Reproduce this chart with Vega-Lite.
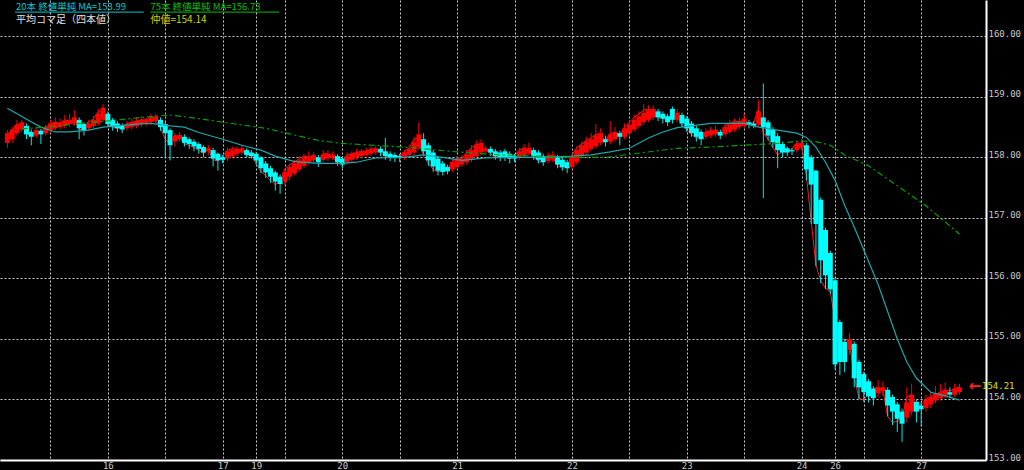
{
  "$schema": "https://vega.github.io/schema/vega-lite/v6.json",
  "width": 986,
  "height": 460,
  "autosize": {"type": "none"},
  "padding": {"left": 0, "top": 0, "right": 38, "bottom": 10},
  "background": "#000000",
  "config": {"view": {"stroke": null}},
  "datasets": {
    "bars": [
      {"k":0,"o":158.24,"c":158.40,"h":158.45,"l":158.16,"r":158.38},
      {"k":1,"o":158.30,"c":158.46,"h":158.50,"l":158.24,"r":158.45},
      {"k":2,"o":158.40,"c":158.54,"h":158.62,"l":158.36,"r":158.55},
      {"k":3,"o":158.46,"c":158.58,"h":158.62,"l":158.42,"r":158.52},
      {"k":4,"o":158.52,"c":158.38,"h":158.56,"l":158.30,"r":158.38},
      {"k":5,"o":158.42,"c":158.34,"h":158.46,"l":158.20,"r":158.36},
      {"k":6,"o":158.36,"c":158.45,"h":158.50,"l":158.32,"r":158.44},
      {"k":7,"o":158.44,"c":158.38,"h":158.47,"l":158.22,"r":158.40},
      {"k":8,"o":158.40,"c":158.50,"h":158.54,"l":158.36,"r":158.50},
      {"k":9,"o":158.45,"c":158.56,"h":158.62,"l":158.40,"r":158.55},
      {"k":10,"o":158.48,"c":158.58,"h":158.66,"l":158.44,"r":158.58},
      {"k":11,"o":158.50,"c":158.58,"h":158.64,"l":158.46,"r":158.56},
      {"k":12,"o":158.52,"c":158.60,"h":158.70,"l":158.48,"r":158.62},
      {"k":13,"o":158.55,"c":158.62,"h":158.72,"l":158.50,"r":158.60},
      {"k":14,"o":158.56,"c":158.66,"h":158.78,"l":158.52,"r":158.64},
      {"k":15,"o":158.62,"c":158.48,"h":158.66,"l":158.30,"r":158.46},
      {"k":16,"o":158.55,"c":158.44,"h":158.58,"l":158.36,"r":158.46},
      {"k":17,"o":158.48,"c":158.56,"h":158.62,"l":158.44,"r":158.58},
      {"k":18,"o":158.52,"c":158.62,"h":158.68,"l":158.48,"r":158.64},
      {"k":19,"o":158.56,"c":158.72,"h":158.80,"l":158.52,"r":158.76},
      {"k":20,"o":158.62,"c":158.82,"h":158.88,"l":158.58,"r":158.74},
      {"k":21,"o":158.72,"c":158.55,"h":158.76,"l":158.50,"r":158.54},
      {"k":22,"o":158.62,"c":158.50,"h":158.65,"l":158.44,"r":158.50},
      {"k":23,"o":158.56,"c":158.48,"h":158.60,"l":158.42,"r":158.48},
      {"k":24,"o":158.52,"c":158.46,"h":158.56,"l":158.40,"r":158.50},
      {"k":25,"o":158.48,"c":158.55,"h":158.60,"l":158.44,"r":158.56},
      {"k":26,"o":158.50,"c":158.58,"h":158.64,"l":158.46,"r":158.58},
      {"k":27,"o":158.52,"c":158.60,"h":158.66,"l":158.48,"r":158.60},
      {"k":28,"o":158.55,"c":158.62,"h":158.68,"l":158.50,"r":158.62},
      {"k":29,"o":158.56,"c":158.62,"h":158.66,"l":158.52,"r":158.62},
      {"k":30,"o":158.58,"c":158.66,"h":158.72,"l":158.54,"r":158.66},
      {"k":31,"o":158.60,"c":158.68,"h":158.72,"l":158.56,"r":158.62},
      {"k":32,"o":158.62,"c":158.50,"h":158.66,"l":158.44,"r":158.48},
      {"k":33,"o":158.55,"c":158.40,"h":158.58,"l":158.00,"r":158.30},
      {"k":34,"o":158.45,"c":158.20,"h":158.48,"l":157.95,"r":158.22},
      {"k":35,"o":158.26,"c":158.36,"h":158.40,"l":158.18,"r":158.36},
      {"k":36,"o":158.30,"c":158.37,"h":158.42,"l":158.26,"r":158.34},
      {"k":37,"o":158.34,"c":158.24,"h":158.38,"l":158.18,"r":158.22},
      {"k":38,"o":158.30,"c":158.22,"h":158.33,"l":158.14,"r":158.20},
      {"k":39,"o":158.26,"c":158.18,"h":158.30,"l":158.10,"r":158.16},
      {"k":40,"o":158.22,"c":158.14,"h":158.25,"l":158.06,"r":158.12},
      {"k":41,"o":158.17,"c":158.08,"h":158.20,"l":158.00,"r":158.06},
      {"k":42,"o":158.10,"c":158.15,"h":158.20,"l":158.04,"r":158.14},
      {"k":43,"o":158.12,"c":157.98,"h":158.16,"l":157.85,"r":157.96},
      {"k":44,"o":158.06,"c":157.95,"h":158.08,"l":157.78,"r":157.94},
      {"k":45,"o":158.00,"c":157.96,"h":158.04,"l":157.90,"r":158.02},
      {"k":46,"o":157.98,"c":158.10,"h":158.16,"l":157.94,"r":158.12},
      {"k":47,"o":158.02,"c":158.12,"h":158.18,"l":157.98,"r":158.14},
      {"k":48,"o":158.06,"c":158.14,"h":158.18,"l":158.02,"r":158.14},
      {"k":49,"o":158.08,"c":158.15,"h":158.20,"l":158.04,"r":158.10},
      {"k":50,"o":158.12,"c":158.04,"h":158.15,"l":158.00,"r":158.04},
      {"k":51,"o":158.08,"c":158.02,"h":158.12,"l":157.98,"r":158.04},
      {"k":52,"o":158.06,"c":157.95,"h":158.09,"l":157.88,"r":157.90},
      {"k":53,"o":158.00,"c":157.82,"h":158.02,"l":157.74,"r":157.76},
      {"k":54,"o":157.90,"c":157.75,"h":157.94,"l":157.66,"r":157.70},
      {"k":55,"o":157.82,"c":157.68,"h":157.86,"l":157.58,"r":157.62},
      {"k":56,"o":157.75,"c":157.60,"h":157.78,"l":157.45,"r":157.55},
      {"k":57,"o":157.68,"c":157.56,"h":157.72,"l":157.40,"r":157.60},
      {"k":58,"o":157.60,"c":157.76,"h":157.82,"l":157.54,"r":157.80},
      {"k":59,"o":157.68,"c":157.84,"h":157.90,"l":157.62,"r":157.88},
      {"k":60,"o":157.74,"c":157.90,"h":157.96,"l":157.70,"r":157.92},
      {"k":61,"o":157.80,"c":157.95,"h":158.02,"l":157.76,"r":157.98},
      {"k":62,"o":157.86,"c":158.00,"h":158.06,"l":157.82,"r":158.02},
      {"k":63,"o":157.92,"c":158.02,"h":158.10,"l":157.88,"r":158.00},
      {"k":64,"o":157.95,"c":158.04,"h":158.08,"l":157.90,"r":158.02},
      {"k":65,"o":158.00,"c":157.92,"h":158.04,"l":157.84,"r":157.94},
      {"k":66,"o":157.96,"c":158.05,"h":158.12,"l":157.92,"r":158.06},
      {"k":67,"o":157.98,"c":158.06,"h":158.12,"l":157.94,"r":158.06},
      {"k":68,"o":158.00,"c":158.05,"h":158.10,"l":157.96,"r":158.00},
      {"k":69,"o":158.02,"c":157.92,"h":158.05,"l":157.86,"r":157.90},
      {"k":70,"o":157.98,"c":157.88,"h":158.02,"l":157.82,"r":157.92},
      {"k":71,"o":157.92,"c":158.02,"h":158.08,"l":157.88,"r":158.04},
      {"k":72,"o":157.96,"c":158.06,"h":158.10,"l":157.92,"r":158.06},
      {"k":73,"o":158.00,"c":158.08,"h":158.14,"l":157.96,"r":158.08},
      {"k":74,"o":158.02,"c":158.10,"h":158.14,"l":157.98,"r":158.10},
      {"k":75,"o":158.04,"c":158.11,"h":158.16,"l":158.00,"r":158.10},
      {"k":76,"o":158.06,"c":158.13,"h":158.18,"l":158.02,"r":158.14},
      {"k":77,"o":158.08,"c":158.15,"h":158.20,"l":158.04,"r":158.14},
      {"k":78,"o":158.14,"c":158.08,"h":158.18,"l":158.02,"r":158.08},
      {"k":79,"o":158.10,"c":158.02,"h":158.32,"l":157.96,"r":158.02},
      {"k":80,"o":158.06,"c":158.00,"h":158.10,"l":157.94,"r":158.00},
      {"k":81,"o":158.04,"c":157.99,"h":158.08,"l":157.92,"r":158.00},
      {"k":82,"o":158.02,"c":157.99,"h":158.06,"l":157.92,"r":158.02},
      {"k":83,"o":158.00,"c":158.08,"h":158.12,"l":157.96,"r":158.10},
      {"k":84,"o":158.04,"c":158.14,"h":158.20,"l":158.00,"r":158.16},
      {"k":85,"o":158.08,"c":158.25,"h":158.34,"l":158.04,"r":158.30},
      {"k":86,"o":158.16,"c":158.38,"h":158.58,"l":158.12,"r":158.30},
      {"k":87,"o":158.30,"c":158.10,"h":158.40,"l":158.04,"r":158.02},
      {"k":88,"o":158.20,"c":157.95,"h":158.24,"l":157.86,"r":157.90},
      {"k":89,"o":158.08,"c":157.85,"h":158.12,"l":157.76,"r":157.80},
      {"k":90,"o":157.98,"c":157.78,"h":158.02,"l":157.70,"r":157.76},
      {"k":91,"o":157.90,"c":157.76,"h":157.94,"l":157.70,"r":157.78},
      {"k":92,"o":157.84,"c":157.77,"h":157.88,"l":157.72,"r":157.80},
      {"k":93,"o":157.80,"c":157.92,"h":157.98,"l":157.76,"r":157.94},
      {"k":94,"o":157.84,"c":157.96,"h":158.02,"l":157.80,"r":157.98},
      {"k":95,"o":157.88,"c":157.98,"h":158.04,"l":157.84,"r":157.98},
      {"k":96,"o":157.92,"c":158.05,"h":158.12,"l":157.88,"r":158.08},
      {"k":97,"o":157.96,"c":158.12,"h":158.20,"l":157.92,"r":158.16},
      {"k":98,"o":158.02,"c":158.20,"h":158.28,"l":157.98,"r":158.22},
      {"k":99,"o":158.08,"c":158.24,"h":158.30,"l":158.04,"r":158.20},
      {"k":100,"o":158.10,"c":158.15,"h":158.20,"l":158.06,"r":158.12},
      {"k":101,"o":158.14,"c":158.08,"h":158.18,"l":158.02,"r":158.06},
      {"k":102,"o":158.10,"c":158.02,"h":158.14,"l":157.96,"r":158.00},
      {"k":103,"o":158.08,"c":158.00,"h":158.12,"l":157.94,"r":158.04},
      {"k":104,"o":158.10,"c":158.00,"h":158.14,"l":157.94,"r":158.00},
      {"k":105,"o":158.06,"c":157.98,"h":158.10,"l":157.90,"r":157.98},
      {"k":106,"o":158.02,"c":157.98,"h":158.06,"l":157.92,"r":158.02},
      {"k":107,"o":158.00,"c":158.10,"h":158.16,"l":157.96,"r":158.12},
      {"k":108,"o":158.04,"c":158.14,"h":158.22,"l":158.00,"r":158.16},
      {"k":109,"o":158.06,"c":158.16,"h":158.24,"l":158.02,"r":158.10},
      {"k":110,"o":158.12,"c":158.02,"h":158.16,"l":157.96,"r":158.00},
      {"k":111,"o":158.08,"c":157.96,"h":158.12,"l":157.90,"r":157.94},
      {"k":112,"o":158.02,"c":157.92,"h":158.06,"l":157.86,"r":157.92},
      {"k":113,"o":157.94,"c":158.02,"h":158.08,"l":157.90,"r":158.04},
      {"k":114,"o":157.96,"c":158.04,"h":158.10,"l":157.92,"r":158.00},
      {"k":115,"o":158.00,"c":157.88,"h":158.04,"l":157.82,"r":157.86},
      {"k":116,"o":157.96,"c":157.84,"h":158.00,"l":157.78,"r":157.82},
      {"k":117,"o":157.92,"c":157.82,"h":157.96,"l":157.74,"r":157.86},
      {"k":118,"o":157.84,"c":158.00,"h":158.06,"l":157.80,"r":158.04},
      {"k":119,"o":157.92,"c":158.12,"h":158.18,"l":157.88,"r":158.16},
      {"k":120,"o":158.02,"c":158.20,"h":158.26,"l":157.98,"r":158.22},
      {"k":121,"o":158.08,"c":158.26,"h":158.34,"l":158.04,"r":158.28},
      {"k":122,"o":158.14,"c":158.30,"h":158.40,"l":158.10,"r":158.32},
      {"k":123,"o":158.18,"c":158.36,"h":158.55,"l":158.14,"r":158.38},
      {"k":124,"o":158.24,"c":158.40,"h":158.48,"l":158.20,"r":158.36},
      {"k":125,"o":158.30,"c":158.25,"h":158.36,"l":158.18,"r":158.28},
      {"k":126,"o":158.26,"c":158.38,"h":158.60,"l":158.22,"r":158.40},
      {"k":127,"o":158.30,"c":158.42,"h":158.50,"l":158.26,"r":158.40},
      {"k":128,"o":158.40,"c":158.34,"h":158.44,"l":158.20,"r":158.36},
      {"k":129,"o":158.34,"c":158.48,"h":158.56,"l":158.30,"r":158.50},
      {"k":130,"o":158.40,"c":158.54,"h":158.62,"l":158.36,"r":158.58},
      {"k":131,"o":158.46,"c":158.62,"h":158.70,"l":158.42,"r":158.66},
      {"k":132,"o":158.52,"c":158.68,"h":158.76,"l":158.48,"r":158.72},
      {"k":133,"o":158.58,"c":158.74,"h":158.88,"l":158.54,"r":158.78},
      {"k":134,"o":158.62,"c":158.78,"h":158.86,"l":158.58,"r":158.80},
      {"k":135,"o":158.66,"c":158.80,"h":158.86,"l":158.62,"r":158.76},
      {"k":136,"o":158.76,"c":158.66,"h":158.80,"l":158.60,"r":158.66},
      {"k":137,"o":158.72,"c":158.64,"h":158.76,"l":158.56,"r":158.64},
      {"k":138,"o":158.68,"c":158.58,"h":158.72,"l":158.52,"r":158.62},
      {"k":139,"o":158.80,"c":158.62,"h":158.84,"l":158.56,"r":158.68},
      {"k":140,"o":158.62,"c":158.74,"h":158.80,"l":158.58,"r":158.70},
      {"k":141,"o":158.70,"c":158.56,"h":158.74,"l":158.50,"r":158.52},
      {"k":142,"o":158.64,"c":158.48,"h":158.68,"l":158.42,"r":158.46},
      {"k":143,"o":158.56,"c":158.40,"h":158.60,"l":158.34,"r":158.38},
      {"k":144,"o":158.48,"c":158.34,"h":158.52,"l":158.26,"r":158.32},
      {"k":145,"o":158.42,"c":158.30,"h":158.46,"l":158.20,"r":158.34},
      {"k":146,"o":158.34,"c":158.42,"h":158.48,"l":158.30,"r":158.42},
      {"k":147,"o":158.36,"c":158.44,"h":158.50,"l":158.32,"r":158.44},
      {"k":148,"o":158.38,"c":158.46,"h":158.52,"l":158.34,"r":158.44},
      {"k":149,"o":158.42,"c":158.36,"h":158.46,"l":158.30,"r":158.40},
      {"k":150,"o":158.38,"c":158.50,"h":158.56,"l":158.34,"r":158.52},
      {"k":151,"o":158.42,"c":158.54,"h":158.62,"l":158.38,"r":158.56},
      {"k":152,"o":158.46,"c":158.58,"h":158.64,"l":158.42,"r":158.60},
      {"k":153,"o":158.50,"c":158.60,"h":158.66,"l":158.46,"r":158.58},
      {"k":154,"o":158.52,"c":158.64,"h":158.72,"l":158.48,"r":158.62},
      {"k":155,"o":158.58,"c":158.54,"h":158.62,"l":158.48,"r":158.54},
      {"k":156,"o":158.56,"c":158.52,"h":158.60,"l":158.48,"r":158.58},
      {"k":157,"o":158.54,"c":158.76,"h":158.94,"l":158.50,"r":158.80},
      {"k":158,"o":158.66,"c":158.50,"h":159.22,"l":157.33,"r":158.40},
      {"k":159,"o":158.58,"c":158.36,"h":158.62,"l":158.28,"r":158.30},
      {"k":160,"o":158.46,"c":158.25,"h":158.50,"l":158.16,"r":158.16},
      {"k":161,"o":158.35,"c":158.12,"h":158.40,"l":157.82,"r":158.04},
      {"k":162,"o":158.22,"c":158.08,"h":158.26,"l":158.00,"r":158.10},
      {"k":163,"o":158.15,"c":158.08,"h":158.18,"l":158.02,"r":158.12},
      {"k":164,"o":158.12,"c":158.10,"h":158.16,"l":158.04,"r":158.14},
      {"k":165,"o":158.12,"c":158.22,"h":158.28,"l":158.08,"r":158.24},
      {"k":166,"o":158.16,"c":158.24,"h":158.30,"l":158.12,"r":158.20},
      {"k":167,"o":158.20,"c":157.80,"h":158.24,"l":157.62,"r":157.70},
      {"k":168,"o":158.00,"c":157.55,"h":158.04,"l":156.90,"r":156.95},
      {"k":169,"o":157.78,"c":156.90,"h":157.80,"l":156.20,"r":156.22},
      {"k":170,"o":157.30,"c":156.30,"h":157.34,"l":155.92,"r":155.96},
      {"k":171,"o":156.80,"c":156.05,"h":156.84,"l":155.82,"r":155.84},
      {"k":172,"o":156.42,"c":155.82,"h":156.46,"l":155.74,"r":155.78},
      {"k":173,"o":155.97,"c":154.58,"h":156.00,"l":154.50,"r":155.30},
      {"k":174,"o":155.28,"c":154.62,"h":155.32,"l":154.40,"r":155.00},
      {"k":175,"o":154.95,"c":154.62,"h":155.00,"l":154.45,"r":154.98},
      {"k":176,"o":154.82,"c":155.00,"h":155.10,"l":154.74,"r":154.95},
      {"k":177,"o":154.92,"c":154.35,"h":154.96,"l":154.20,"r":154.37},
      {"k":178,"o":154.62,"c":154.20,"h":154.66,"l":154.00,"r":154.02},
      {"k":179,"o":154.42,"c":154.12,"h":154.46,"l":153.96,"r":153.99},
      {"k":180,"o":154.30,"c":154.05,"h":154.34,"l":153.95,"r":154.10},
      {"k":181,"o":154.18,"c":154.02,"h":154.22,"l":153.90,"r":154.18},
      {"k":182,"o":154.10,"c":154.20,"h":154.32,"l":154.04,"r":154.20},
      {"k":183,"o":154.14,"c":154.20,"h":154.30,"l":154.06,"r":154.15},
      {"k":184,"o":154.16,"c":153.90,"h":154.20,"l":153.72,"r":153.72},
      {"k":185,"o":154.04,"c":153.80,"h":154.08,"l":153.58,"r":153.62},
      {"k":186,"o":153.92,"c":153.68,"h":153.96,"l":153.46,"r":153.64},
      {"k":187,"o":153.80,"c":153.60,"h":153.85,"l":153.30,"r":153.70},
      {"k":188,"o":153.70,"c":153.95,"h":154.20,"l":153.62,"r":154.04},
      {"k":189,"o":153.80,"c":154.08,"h":154.26,"l":153.74,"r":154.08},
      {"k":190,"o":153.96,"c":153.80,"h":154.00,"l":153.62,"r":153.88},
      {"k":191,"o":153.90,"c":153.84,"h":153.96,"l":153.55,"r":153.92},
      {"k":192,"o":153.86,"c":154.00,"h":154.08,"l":153.80,"r":154.00},
      {"k":193,"o":153.92,"c":154.04,"h":154.12,"l":153.86,"r":154.05},
      {"k":194,"o":153.98,"c":154.10,"h":154.22,"l":153.94,"r":154.08},
      {"k":195,"o":154.02,"c":154.12,"h":154.26,"l":153.98,"r":154.12},
      {"k":196,"o":154.06,"c":154.16,"h":154.28,"l":154.02,"r":154.16},
      {"k":197,"o":154.12,"c":154.08,"h":154.20,"l":154.02,"r":154.14},
      {"k":198,"o":154.08,"c":154.18,"h":154.26,"l":154.04,"r":154.18},
      {"k":199,"o":154.12,"c":154.20,"h":154.26,"l":154.08,"r":154.21}
    ],
    "ma20": [
      {"k":0,"v":158.81},{"k":4,"v":158.63},{"k":7,"v":158.50},{"k":10,"v":158.42},{"k":13,"v":158.42},
      {"k":17,"v":158.45},{"k":20,"v":158.50},{"k":24,"v":158.53},{"k":27,"v":158.55},{"k":30,"v":158.56},
      {"k":34,"v":158.52},{"k":37,"v":158.50},{"k":40,"v":158.41},{"k":45,"v":158.30},{"k":49,"v":158.20},
      {"k":53,"v":158.12},{"k":56,"v":158.02},{"k":60,"v":157.93},{"k":65,"v":157.90},{"k":70,"v":157.90},
      {"k":73,"v":157.92},{"k":77,"v":157.99},{"k":83,"v":158.00},{"k":87,"v":158.04},{"k":91,"v":158.00},
      {"k":95,"v":157.95},{"k":100,"v":157.99},{"k":105,"v":158.00},{"k":111,"v":158.00},{"k":118,"v":158.02},
      {"k":122,"v":158.04},{"k":126,"v":158.09},{"k":130,"v":158.15},{"k":134,"v":158.32},{"k":137,"v":158.42},
      {"k":140,"v":158.49},{"k":147,"v":158.56},{"k":154,"v":158.56},{"k":157,"v":158.50},{"k":161,"v":158.45},
      {"k":165,"v":158.40},{"k":167,"v":158.33},{"k":169,"v":158.17},{"k":171,"v":157.92},{"k":173,"v":157.62},
      {"k":175,"v":157.21},{"k":177,"v":156.85},{"k":179,"v":156.47},{"k":182,"v":155.90},{"k":184,"v":155.45},
      {"k":186,"v":155.00},{"k":188,"v":154.62},{"k":190,"v":154.35},{"k":193,"v":154.12},{"k":196,"v":154.06},
      {"k":199,"v":153.99}
    ],
    "ma75": [
      {"k":3,"v":158.47},{"k":8,"v":158.50},{"k":15,"v":158.56},{"k":22,"v":158.61},{"k":28,"v":158.66},
      {"k":34,"v":158.70},{"k":40,"v":158.64},{"k":47,"v":158.56},{"k":54,"v":158.48},{"k":60,"v":158.37},
      {"k":65,"v":158.28},{"k":70,"v":158.23},{"k":83,"v":158.17},{"k":94,"v":158.09},{"k":103,"v":158.04},
      {"k":118,"v":158.00},{"k":125,"v":158.00},{"k":131,"v":158.06},{"k":140,"v":158.15},{"k":147,"v":158.17},
      {"k":154,"v":158.20},{"k":161,"v":158.23},{"k":166,"v":158.27},{"k":169,"v":158.26},{"k":172,"v":158.20},
      {"k":175,"v":158.04},{"k":180,"v":157.86},{"k":186,"v":157.53},{"k":192,"v":157.20},{"k":198,"v":156.80},
      {"k":199,"v":156.73}
    ],
    "one": [{"n": 1}]
  },
  "layer": [
    {
      "data": {"name": "bars"},
      "mark": {"type": "line", "color": "#ff1a1a", "strokeWidth": 1},
      "encoding": {
        "x": {"field": "k", "type": "quantitative", "scale": {"domain": [-0.5, 203.5], "nice": false, "zero": false},
          "axis": {"orient": "bottom", "values": [9,21,33,45,52,58,70,82,94,106,118,130,142,154,166,173,179,191],
            "labelExpr": "datum.value==21?'16':datum.value==45?'17':datum.value==52?'19':datum.value==70?'20':datum.value==94?'21':datum.value==118?'22':datum.value==142?'23':datum.value==166?'24':datum.value==173?'26':datum.value==191?'27':''",
            "grid": true, "gridColor": "#c8c8c8", "gridDash": [2, 2], "gridWidth": 1, "ticks": false,
            "domainColor": "#ffffff", "domainWidth": 2, "labelColor": "#c8c8c8", "labelFont": "DejaVu Sans Mono",
            "labelFontSize": 9, "labelPadding": 1, "labelOverlap": false, "labelFlush": false, "title": null}},
        "y": {"field": "r", "type": "quantitative", "scale": {"domain": [153, 160.6], "nice": false, "zero": false},
          "axis": {"orient": "right", "values": [153,154,155,156,157,158,159,160], "format": ".2f",
            "grid": true, "gridColor": "#c8c8c8", "gridDash": [2, 2], "gridWidth": 1, "ticks": false,
            "domainColor": "#ffffff", "domainWidth": 2, "labelColor": "#c8c8c8", "labelFont": "DejaVu Sans Mono",
            "labelFontSize": 9, "labelPadding": 2, "labelBaseline": "alphabetic", "labelFlush": false, "title": null}}
      }
    },
    {
      "data": {"name": "bars"},
      "mark": {"type": "rule", "strokeWidth": 1},
      "encoding": {
        "x": {"field": "k", "type": "quantitative"},
        "y": {"field": "l", "type": "quantitative"},
        "y2": {"field": "h"},
        "color": {"condition": {"test": "datum.c >= datum.o", "value": "#ff0000"}, "value": "#00e8e8"}
      }
    },
    {
      "data": {"name": "bars"},
      "mark": {"type": "bar", "size": 5},
      "encoding": {
        "x": {"field": "k", "type": "quantitative"},
        "y": {"field": "o", "type": "quantitative"},
        "y2": {"field": "c"},
        "color": {"condition": {"test": "datum.c >= datum.o", "value": "#ff0000"}, "value": "#00ffff"}
      }
    },
    {
      "data": {"name": "ma20"},
      "mark": {"type": "line", "color": "#1aa8a8", "strokeWidth": 1.2},
      "encoding": {
        "x": {"field": "k", "type": "quantitative"},
        "y": {"field": "v", "type": "quantitative"}
      }
    },
    {
      "data": {"name": "ma75"},
      "mark": {"type": "line", "color": "#00a000", "strokeWidth": 1.2, "strokeDash": [6, 3, 2, 3]},
      "encoding": {
        "x": {"field": "k", "type": "quantitative"},
        "y": {"field": "v", "type": "quantitative"}
      }
    },
    {
      "data": {"name": "one"},
      "mark": {"type": "text", "text": "20本 終値単純 MA=153.99", "color": "#00c8d0", "font": "Noto Sans CJK JP", "fontSize": 9.5, "align": "left", "baseline": "alphabetic"},
      "encoding": {"x": {"datum": 1.8, "type": "quantitative"}, "y": {"datum": 160.435, "type": "quantitative"}}
    },
    {
      "data": {"name": "one"},
      "mark": {"type": "rule", "color": "#00c8d0", "strokeWidth": 1},
      "encoding": {"x": {"datum": 1.6, "type": "quantitative"}, "x2": {"datum": 28.5}, "y": {"datum": 160.40, "type": "quantitative"}}
    },
    {
      "data": {"name": "one"},
      "mark": {"type": "text", "text": "75本 終値単純 MA=156.73", "color": "#00c000", "font": "Noto Sans CJK JP", "fontSize": 9.5, "align": "left", "baseline": "alphabetic"},
      "encoding": {"x": {"datum": 29.9, "type": "quantitative"}, "y": {"datum": 160.435, "type": "quantitative"}}
    },
    {
      "data": {"name": "one"},
      "mark": {"type": "rule", "color": "#00c000", "strokeWidth": 1},
      "encoding": {"x": {"datum": 29.9, "type": "quantitative"}, "x2": {"datum": 56.8}, "y": {"datum": 160.40, "type": "quantitative"}}
    },
    {
      "data": {"name": "one"},
      "mark": {"type": "text", "text": "平均コマ足（四本値）", "color": "#e0e0e0", "font": "Noto Sans CJK JP", "fontSize": 10, "align": "left", "baseline": "alphabetic"},
      "encoding": {"x": {"datum": 1.8, "type": "quantitative"}, "y": {"datum": 160.22, "type": "quantitative"}}
    },
    {
      "data": {"name": "one"},
      "mark": {"type": "text", "text": "仲値=154.14", "color": "#d0d000", "font": "Noto Sans CJK JP", "fontSize": 10, "align": "left", "baseline": "alphabetic"},
      "encoding": {"x": {"datum": 29.9, "type": "quantitative"}, "y": {"datum": 160.22, "type": "quantitative"}}
    },
    {
      "data": {"name": "one"},
      "mark": {"type": "text", "text": "←", "color": "#ff2020", "font": "DejaVu Sans", "fontSize": 15, "fontWeight": "bold", "align": "right", "baseline": "middle", "dx": 0},
      "encoding": {"x": {"datum": 203.5, "type": "quantitative"}, "y": {"datum": 154.22, "type": "quantitative"}}
    },
    {
      "data": {"name": "one"},
      "mark": {"type": "text", "text": "154.21", "color": "#e0e000", "font": "DejaVu Sans Mono", "fontSize": 9, "align": "left", "baseline": "middle", "dx": 1},
      "encoding": {"x": {"datum": 203.5, "type": "quantitative"}, "y": {"datum": 154.22, "type": "quantitative"}}
    }
  ]
}
